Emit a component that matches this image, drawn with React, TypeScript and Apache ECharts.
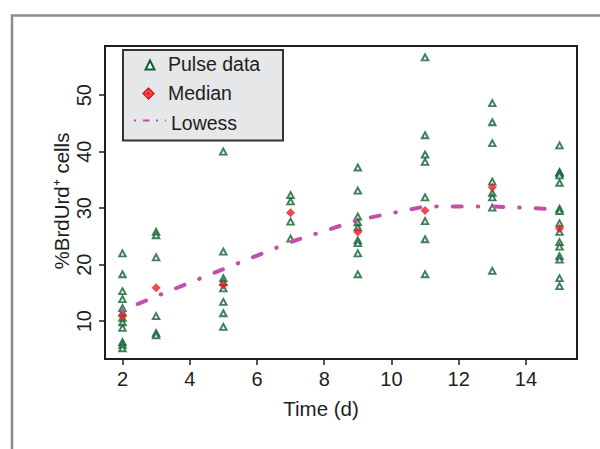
import React, { useEffect, useRef } from "react";
import * as echarts from "echarts";

const FONT = '"Liberation Sans", Arial, Helvetica, sans-serif';

// Days with measurements
const days = [2, 3, 5, 7, 9, 11, 13, 15];

// Pulse data (% BrdUrd+ cells), one list per day
const pulseDay2 = [22.0, 18.3, 15.3, 13.9, 12.3, 11.5, 10.6, 9.8, 8.8, 6.3, 5.8, 5.2];
const pulseDay3 = [25.8, 25.2, 21.3, 10.9, 7.9, 7.5];
const pulseDay5 = [40.0, 22.3, 17.6, 16.9, 15.8, 13.4, 11.4, 9.0];
const pulseDay7 = [32.3, 31.2, 27.6, 24.6];
const pulseDay9 = [37.2, 33.1, 28.5, 27.5, 26.6, 24.3, 23.8, 22.0, 18.3];
const pulseDay11 = [56.7, 42.9, 39.5, 38.2, 31.9, 27.7, 24.5, 18.3];
const pulseDay13 = [48.6, 45.2, 41.5, 34.7, 32.7, 31.9, 30.1, 18.9];
const pulseDay15 = [41.1, 36.4, 36.2, 35.8, 34.5, 29.9, 29.5, 27.3, 25.8, 24.0, 23.2, 21.5, 20.9, 17.6, 16.2];
const pulseByDay = [pulseDay2, pulseDay3, pulseDay5, pulseDay7, pulseDay9, pulseDay11, pulseDay13, pulseDay15];

// Medians per day
const medians = [10.9, 15.9, 16.4, 29.2, 25.8, 29.6, 33.7, 26.4];

// Lowess fit per day
const lowess = [11.9, 14.4, 19.2, 24.0, 27.9, 30.3, 30.3, 29.8];

// Tick labels
const xTicks = [2, 4, 6, 8, 10, 12, 14];
const yTicks = [10, 20, 30, 40, 50];

const GREEN = "#0f5f30";
const RED = "#ee1c25";
const MAGENTA = "#c050a8";
const INK = "#1e1e1e";

export default function App() {
  const ref = useRef<HTMLDivElement>(null);

  useEffect(() => {
    if (!ref.current) return;
    const chart = echarts.init(ref.current, undefined, { renderer: "svg" });

    const pulseData: number[][] = [];
    days.forEach((d, i) => {
      pulseByDay[i].forEach((v) => pulseData.push([d, v]));
    });
    const medianData = days.map((d, i) => [d, medians[i]]);
    const lowessData = days.map((d, i) => [d, lowess[i]]);

    const axisCommon = {
      type: "value" as const,
      splitLine: { show: false },
      axisLine: { show: true, onZero: false, lineStyle: { color: INK, width: 2 } },
    };

    const option: any = {
      animation: false,
      textStyle: { fontFamily: FONT },
      grid: {
        left: 105,
        top: 46,
        width: 472,
        height: 313,
        show: true,
        borderColor: INK,
        borderWidth: 2,
        backgroundColor: "transparent",
      },
      xAxis: {
        ...axisCommon,
        min: 1.48,
        max: 15.52,
        axisTick: { show: true, inside: false, length: 6, customValues: xTicks, lineStyle: { color: INK, width: 1.5 } },
        axisLabel: { customValues: xTicks, margin: 10, fontSize: 20, color: INK, fontFamily: FONT },
      },
      yAxis: {
        ...axisCommon,
        min: 3.3,
        max: 58.7,
        axisTick: { show: true, inside: false, length: 6, customValues: yTicks, lineStyle: { color: INK, width: 1.5 } },
        axisLabel: { customValues: yTicks, margin: 11, fontSize: 20, rotate: 90, color: INK, fontFamily: FONT },
      },
      series: [
        {
          name: "Pulse data",
          type: "scatter",
          data: pulseData,
          symbol: "triangle",
          symbolSize: [6.5, 6],
          itemStyle: { color: "#ffffff", borderColor: GREEN, borderWidth: 1.9 },
          z: 2,
        },
        {
          name: "Lowess",
          type: "line",
          data: lowessData,
          showSymbol: false,
          symbol: "none",
          lineStyle: { color: MAGENTA, width: 4, type: [0.5, 16, 9, 16], cap: "round" },
          z: 3,
        },
        {
          name: "Median",
          type: "scatter",
          data: medianData,
          symbol: "diamond",
          symbolSize: 9,
          itemStyle: { color: RED },
          z: 4,
        },
      ],
      graphic: [
        {
          type: "rect",
          silent: true,
          shape: { x: 12, y: 15.5, width: 800, height: 800 },
          style: { fill: "none", stroke: "#8c8c8c", lineWidth: 2.5 },
        },
        {
          type: "text",
          x: 321,
          y: 408,
          style: { text: "Time (d)", fontSize: 20.5, fontFamily: FONT, fill: INK, align: "center", verticalAlign: "middle" },
        },
        {
          type: "text",
          x: 61,
          y: 201,
          rotation: Math.PI / 2,
          style: { text: "%BrdUrd\u207A cells", fontSize: 20.5, fontFamily: FONT, fill: INK, align: "center", verticalAlign: "middle" },
        },
        {
          type: "group",
          z: 100,
          children: [
            {
              type: "rect",
              shape: { x: 123, y: 50, width: 160, height: 90.5 },
              style: { fill: "#e6e7e8", stroke: "#333333", lineWidth: 2 },
            },
            {
              type: "polygon",
              shape: { points: [[145.5, 69.5], [154.5, 69.5], [150, 60.5]] },
              style: { fill: "#ffffff", stroke: GREEN, lineWidth: 2 },
            },
            {
              type: "text",
              x: 168,
              y: 64,
              style: { text: "Pulse data", fontSize: 19.5, fontFamily: FONT, fill: INK, align: "left", verticalAlign: "middle" },
            },
            {
              type: "polygon",
              shape: { points: [[148.5, 87.5], [154.5, 93.5], [148.5, 99.5], [142.5, 93.5]] },
              style: { fill: RED, stroke: RED, lineWidth: 1 },
            },
            {
              type: "circle",
              shape: { cx: 148.5, cy: 93.5, r: 2.6 },
              style: { fill: "none", stroke: "#ff9a9a", lineWidth: 0.8 },
            },
            {
              type: "text",
              x: 168,
              y: 92.5,
              style: { text: "Median", fontSize: 19.5, fontFamily: FONT, fill: INK, align: "left", verticalAlign: "middle" },
            },
            {
              type: "line",
              shape: { x1: 134, y1: 120.5, x2: 166, y2: 120.5 },
              style: { stroke: MAGENTA, lineWidth: 2, lineDash: [2, 7, 6.5, 6.5] },
            },
            {
              type: "text",
              x: 171,
              y: 122.5,
              style: { text: "Lowess", fontSize: 19.5, fontFamily: FONT, fill: INK, align: "left", verticalAlign: "middle" },
            },
          ],
        },
      ],
    };

    chart.setOption(option);
    return () => chart.dispose();
  }, []);

  return (
    <div
      ref={ref}
      style={{ position: "absolute", left: 0, top: 0, width: 600, height: 449, background: "#ffffff" }}
    />
  );
}
